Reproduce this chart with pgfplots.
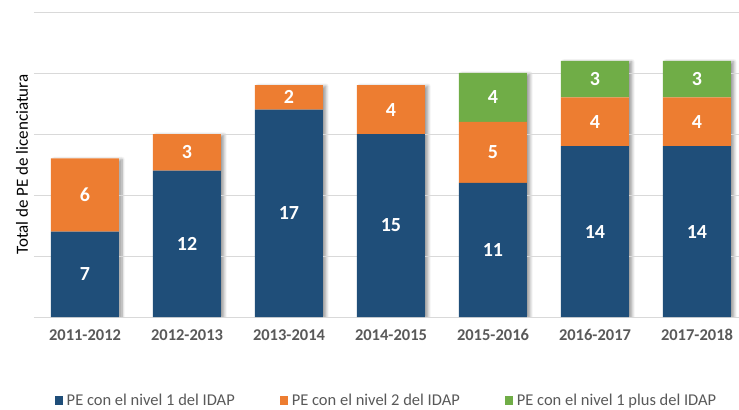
\documentclass[border=0pt]{standalone}
\usepackage{pgfplots}
\usepackage{pgfplotstable}
\pgfplotsset{compat=1.18}
\usetikzlibrary{shadows.blur}
\usepackage{fontspec}
\setmainfont{Carlito}
\definecolor{cblue}{HTML}{1F4E79}
\definecolor{corange}{HTML}{ED7D31}
\definecolor{cgreen}{HTML}{70AD47}
\definecolor{tickgray}{HTML}{595959}
\definecolor{gridgray}{HTML}{D9D9D9}
\pgfplotstableread{
x y
0 7
1 12
2 17
3 15
4 11
5 14
6 14
}\nivelone
\pgfplotstableread{
x y
0 6
1 3
2 2
3 4
4 5
5 4
6 4
}\niveltwo
\pgfplotstableread{
x y
0 0
1 0
2 0
3 0
4 4
5 3
6 3
}\nivelplus
\pgfplotstableread{
x y
0 13
1 15
2 19
3 19
4 20
5 21
6 21
}\total
\pgfplotsset{common/.style={
  scale only axis,
  width=705pt, height=305pt,
  bar width=68pt,
  xmin=-0.5, xmax=6.412,
  ymin=0, ymax=25,
  enlarge x limits=false, enlarge y limits=false}}
\begin{document}
\begin{tikzpicture}
\begin{axis}[common, ybar, hide axis]
\addplot[fill=white, draw=none,
  blur shadow={shadow xshift=3pt, shadow yshift=-1pt, shadow blur radius=3pt, shadow blur steps=8, shadow opacity=40}]
  table[x=x,y=y] {\total};
\end{axis}
\begin{axis}[
  common,
  name=ax,
  ybar stacked,
  ytick={0,5,...,25}, yticklabels={},
  ymajorgrids, grid style={gridgray, line width=0.9pt},
  major tick length=0pt,
  axis line style={draw=none},
  xtick={0,...,6},
  xticklabels={2011-2012,2012-2013,2013-2014,2014-2015,2015-2016,2016-2017,2017-2018},
  xticklabel style={font=\bfseries\fontsize{16.5}{19}\selectfont, text=tickgray, yshift=-9pt},
  ylabel={Total de PE de licenciatura},
  ylabel style={font=\fontsize{17}{20}\selectfont, at={(axis description cs:-0.017,0.5)}, anchor=center},
  point meta=explicit,
  /pgf/number format/assume math mode=true,
  nodes near coords={\pgfmathfloatifflags{\pgfplotspointmeta}{0}{}{\pgfmathprintnumber{\pgfplotspointmeta}}},
  every node near coord/.append style={font=\bfseries\fontsize{20}{22}\selectfont, text=white, anchor=center},
  legend columns=3,
  legend cell align=left,
  legend style={at={(axis description cs:0.5,0)}, anchor=north, yshift=-75pt, draw=none, inner sep=0pt,
    font=\fontsize{16.5}{18}\selectfont, text=tickgray,
    /tikz/every even column/.append style={column sep=43pt}},
  legend image code/.code={\fill[#1] (0pt,-4.5pt) rectangle (8pt,4.5pt);},
]
\addplot[fill=cblue, draw=none] table[x=x,y=y,meta=y] {\nivelone};
\addlegendentry{\hspace{2pt}PE con el nivel 1 del IDAP}
\addplot[fill=corange, draw=none] table[x=x,y=y,meta=y] {\niveltwo};
\addlegendentry{\hspace{2pt}PE con el nivel 2 del IDAP}
\addplot[fill=cgreen, draw=none] table[x=x,y=y,meta=y] {\nivelplus};
\addlegendentry{\hspace{2pt}PE con el nivel 1 plus del IDAP}
\end{axis}
\pgfresetboundingbox
\path[use as bounding box] ([shift={(-34pt,-92pt)}]ax.south west) rectangle ([shift={(0pt,12pt)}]ax.north east);
\end{tikzpicture}
\end{document}
